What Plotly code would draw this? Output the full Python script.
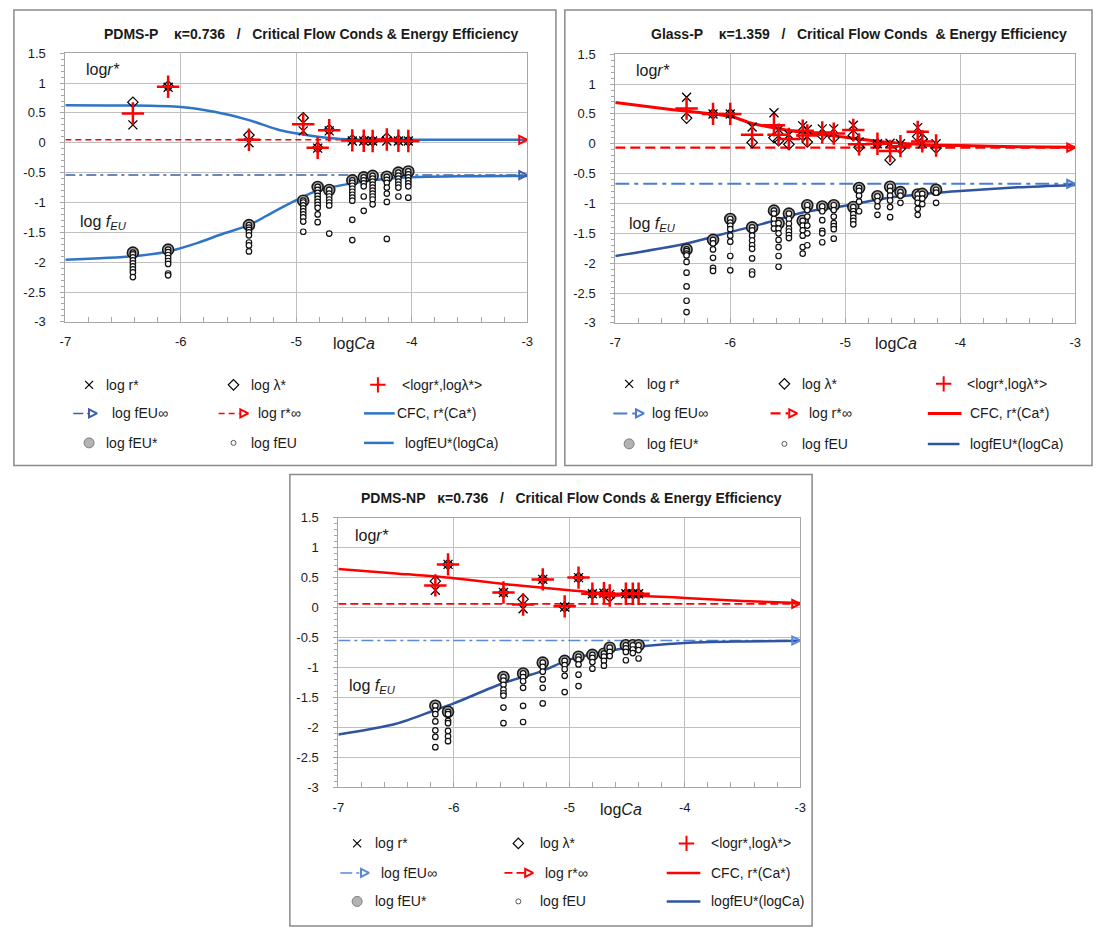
import plotly.graph_objects as go

W, H = 1101, 936

# ---------------- axes / ticks ----------------
X_SPAN = [-7, -3]
X_TICKS = [-7, -6, -5, -4, -3]
X_TICK_TEXT = ["-7", "-6", "-5", "-4", "-3"]
Y_TICKS = [-3, -2.5, -2, -1.5, -1, -0.5, 0, 0.5, 1, 1.5]
Y_TICK_TEXT = ["-3", "-2.5", "-2", "-1.5", "-1", "-0.5", "0", "0.5", "1", "1.5"]

# ---------------- Panel 1 : PDMS-P ----------------
P1_CA = [-6.415, -6.11, -5.41, -4.94, -4.815, -4.715, -4.515, -4.416, -4.339, -4.216, -4.116, -4.03]
P1_LOGR = [0.30, 0.93, 0.00, 0.20, -0.09, 0.20, 0.03, 0.03, 0.03, 0.03, 0.03, 0.03]
P1_LOGLAM = [0.68, 0.95, 0.13, 0.42, -0.08, 0.22, 0.05, 0.04, 0.03, 0.08, 0.04, 0.03]
P1_MEAN = [0.49, 0.94, 0.05, 0.31, -0.085, 0.21, 0.04, 0.035, 0.03, 0.055, 0.035, 0.03]
P1_FEU_STAR = [-1.84, -1.79, -1.38, -0.97, -0.74, -0.79, -0.63, -0.58, -0.555, -0.57, -0.50, -0.48]
P1_FEU = [
    [-1.87, -1.92, -1.97, -2.02, -2.07, -2.12, -2.17, -2.25],
    [-1.83, -1.88, -1.93, -1.98, -2.03, -2.19, -2.22],
    [-1.42, -1.46, -1.50, -1.55, -1.67, -1.72, -1.82],
    [-1.00, -1.05, -1.10, -1.15, -1.20, -1.25, -1.32, -1.49],
    [-0.79, -0.84, -0.89, -0.94, -0.99, -1.04, -1.09, -1.20, -1.33],
    [-0.85, -0.90, -0.95, -1.00, -1.05, -1.52],
    [-0.67, -0.72, -0.77, -0.82, -0.87, -0.92, -0.97, -1.29, -1.63],
    [-0.63, -0.68, -0.73, -0.90, -1.14],
    [-0.60, -0.65, -0.70, -0.75, -0.80, -0.85, -0.90, -0.95, -1.03],
    [-0.62, -0.67, -0.75, -0.85, -0.99, -1.61],
    [-0.55, -0.60, -0.65, -0.70, -0.75, -0.90],
    [-0.53, -0.58, -0.63, -0.68, -0.73, -0.92],
]
P1_RINF = 0.05
P1_FEUINF = -0.54
P1_CFC_CA = [-7, -6.5, -6.0, -5.71, -5.41, -5.14, -4.94, -4.71, -4.51, -4.0, -3.5, -3.0]
P1_CFC = [0.63, 0.625, 0.60, 0.52, 0.38, 0.21, 0.14, 0.08, 0.055, 0.05, 0.05, 0.05]
P1_FEUC_CA = [-7, -6.415, -6.11, -5.86, -5.63, -5.41, -5.2, -5.0, -4.815, -4.515, -4.14, -3.5, -3.0]
P1_FEUC = [-1.96, -1.90, -1.82, -1.68, -1.52, -1.38, -1.16, -0.96, -0.80, -0.68, -0.59, -0.56, -0.555]

# ---------------- Panel 2 : Glass-P ----------------
P2_CA = [-6.38, -6.15, -6.0, -5.81, -5.62, -5.58, -5.49, -5.37, -5.33, -5.2, -5.1,
         -4.93, -4.88, -4.72, -4.61, -4.52, -4.37, -4.33, -4.21]
P2_LOGR = [0.78, 0.50, 0.50, 0.28, 0.52, 0.24, 0.15, 0.30, 0.24, 0.25, 0.25,
           0.31, 0.03, 0.00, 0.01, 0.00, 0.27, 0.00, 0.00]
P2_LOGLAM = [0.43, 0.50, 0.50, 0.02, 0.10, 0.05, -0.01, 0.14, 0.03, 0.14, 0.10,
             0.14, -0.06, 0.00, -0.27, -0.08, 0.12, 0.08, -0.07]
P2_MEAN = [0.59, 0.50, 0.50, 0.15, 0.31, 0.15, 0.08, 0.22, 0.14, 0.19, 0.17,
           0.23, -0.01, 0.00, -0.12, -0.04, 0.20, 0.04, -0.03]
P2_FEU_STAR = [-1.77, -1.61, -1.26, -1.40, -1.12, -1.33, -1.17, -1.29, -1.03, -1.05, -1.03,
               -1.06, -0.74, -0.88, -0.72, -0.81, -0.85, -0.84, -0.77]
P2_FEU = [
    [-1.80, -1.84, -1.87, -1.98, -2.16, -2.39, -2.63, -2.82],
    [-1.67, -1.77, -1.91, -2.08, -2.13],
    [-1.32, -1.37, -1.43, -1.54, -1.64, -1.88, -2.12],
    [-1.45, -1.54, -1.62, -1.70, -1.76, -1.92, -2.14, -2.19],
    [-1.17, -1.26, -1.34, -1.42],
    [-1.42, -1.50, -1.61, -1.73, -1.88, -2.06],
    [-1.26, -1.34, -1.42, -1.47, -1.53, -1.58],
    [-1.37, -1.45, -1.54, -1.73, -1.84],
    [-1.11, -1.22, -1.37, -1.50, -1.70],
    [-1.13, -1.28, -1.46, -1.50, -1.65],
    [-1.11, -1.22, -1.33, -1.38, -1.43, -1.59],
    [-1.13, -1.18, -1.24, -1.29, -1.35],
    [-0.79, -0.87, -0.97, -1.13],
    [-0.96, -1.05, -1.19],
    [-0.79, -0.87, -0.95, -1.06, -1.23],
    [-0.87, -0.99],
    [-0.92, -0.99, -1.09, -1.19],
    [-0.92, -1.01],
    [-0.82, -0.99],
]
P2_RINF = -0.065
P2_FEUINF = -0.67
P2_CFC_CA = [-7, -6.5, -6.0, -5.81, -5.62, -5.37, -5.14, -5.0, -4.71, -4.26, -4.0, -3.5, -3.0]
P2_CFC = [0.69, 0.57, 0.46, 0.34, 0.27, 0.19, 0.14, 0.11, 0.04, -0.02, -0.03, -0.05, -0.06]
P2_FEUC_CA = [-7, -6.38, -6.0, -5.62, -5.37, -5.0, -4.61, -4.26, -4.0, -3.5, -3.0]
P2_FEUC = [-1.88, -1.67, -1.48, -1.29, -1.15, -1.04, -0.90, -0.83, -0.79, -0.73, -0.69]

# ---------------- Panel 3 : PDMS-NP ----------------
P3_CA = [-6.16, -6.05, -5.57, -5.40, -5.23, -5.04, -4.92, -4.80, -4.70, -4.65, -4.51, -4.45, -4.40]
P3_LOGR = [0.29, 0.72, 0.25, -0.02, 0.47, 0.01, 0.50, 0.23, 0.24, 0.22, 0.23, 0.23, 0.23]
P3_LOGLAM = [0.44, 0.72, 0.25, 0.14, 0.47, 0.01, 0.50, 0.23, 0.24, 0.18, 0.23, 0.23, 0.23]
P3_MEAN = [0.37, 0.72, 0.25, 0.05, 0.47, 0.02, 0.50, 0.23, 0.24, 0.20, 0.23, 0.23, 0.23]
P3_FEU_STAR = [-1.64, -1.74, -1.16, -1.10, -0.92, -0.89, -0.82, -0.79, -0.77, -0.67, -0.63, -0.63, -0.63]
P3_FEU = [
    [-1.72, -1.78, -1.90, -2.05, -2.16, -2.33],
    [-1.78, -1.89, -1.93, -2.06, -2.15, -2.23],
    [-1.22, -1.29, -1.37, -1.43, -1.47, -1.67, -1.93],
    [-1.16, -1.23, -1.34, -1.64, -1.91],
    [-0.99, -1.07, -1.20, -1.34, -1.60],
    [-0.96, -1.03, -1.14, -1.41],
    [-0.87, -0.95, -1.12, -1.31],
    [-0.84, -0.91, -1.02],
    [-0.82, -0.89, -0.97],
    [-0.74, -0.81],
    [-0.68, -0.74, -0.88],
    [-0.70, -0.76],
    [-0.71, -0.85],
]
P3_RINF = 0.06
P3_FEUINF = -0.55
P3_CFC_CA = [-7, -6.5, -6.0, -5.5, -5.0, -4.5, -4.0, -3.5, -3.0]
P3_CFC = [0.645, 0.57, 0.49, 0.38, 0.29, 0.21, 0.16, 0.11, 0.075]
P3_FEUC_CA = [-7, -6.5, -6.16, -6.0, -5.57, -5.25, -5.0, -4.75, -4.49, -4.0, -3.5, -3.0]
P3_FEUC = [-2.12, -1.94, -1.71, -1.60, -1.26, -1.07, -0.87, -0.76, -0.67, -0.59, -0.565, -0.555]

TITLES = [
    "PDMS-P\u00a0\u00a0\u00a0\u00a0κ=0.736\u00a0\u00a0\u00a0/\u00a0\u00a0\u00a0Critical Flow Conds & Energy Efficiency",
    "Glass-P\u00a0\u00a0\u00a0\u00a0κ=1.359\u00a0\u00a0\u00a0/\u00a0\u00a0\u00a0Critical Flow Conds\u00a0\u00a0& Energy Efficiency",
    "PDMS-NP\u00a0\u00a0\u00a0κ=0.736\u00a0\u00a0\u00a0/\u00a0\u00a0\u00a0Critical Flow Conds & Energy Efficiency",
]
LEGEND_TEXT = ["log r*", "log λ*", "&lt;logr*,logλ*&gt;",
               "log fEU∞", "log r*∞", "CFC, r*(Ca*)",
               "log fEU*", "log fEU", "logfEU*(logCa)"]

# ---------------- styling / layout (pixels) ----------------
FONT = "Liberation Sans, Arial, sans-serif"
RED = "#ff0000"
GRID = "#bfbfbf"
AXLINE = "#a6a6a6"

PANELS = [
    dict(data=(P1_CA, P1_LOGR, P1_LOGLAM, P1_MEAN, P1_FEU_STAR, P1_FEU, P1_RINF, P1_FEUINF,
               P1_CFC_CA, P1_CFC, P1_FEUC_CA, P1_FEUC),
         px=(60, 527, 47, 320), box=(8, 3, 556, 466),
         cfc_color="#2e75c7", cfc_w=2.5, feuc_color="#2e75c7", feuc_w=2.5,
         rinf_dash="6px,4px", rinf_w=1.5, inf_color="#3d5ea8", inf_dash="10px,4px,3px,4px", inf_w=1.5,
         title_xy=(309, 27), xlabel_xy=(352, 342), rlab=(79, 64), flab=(73, 219),
         leg=dict(rows=(384, 413, 443), sym=(84, 230, 376), txt=(99, 246, 398),
                  l1=(68, 84), a1=92, t1=105, l2=(215, 236), a2=245, t2=253,
                  l3=(362, 393), t3=393, l3b=(362, 392), t3b=401)),
    dict(data=(P2_CA, P2_LOGR, P2_LOGLAM, P2_MEAN, P2_FEU_STAR, P2_FEU, P2_RINF, P2_FEUINF,
               P2_CFC_CA, P2_CFC, P2_FEUC_CA, P2_FEUC),
         px=(616, 1081, 48, 321), box=(565, 3, 1098, 466),
         cfc_color=RED, cfc_w=3, feuc_color="#2f54a0", feuc_w=2.5,
         rinf_dash="10px,5px", rinf_w=2.2, inf_color="#4a7cd0", inf_dash="14px,5px,4px,5px", inf_w=2,
         title_xy=(862, 27), xlabel_xy=(900, 342), rlab=(635, 65), flab=(628, 221),
         leg=dict(rows=(383, 413, 444), sym=(630, 787, 948), txt=(646, 803, 970),
                  l1=(614, 638), a1=645, t1=651, l2=(773, 791), a2=800, t2=810,
                  l3=(932, 966), t3=973, l3b=(932, 964), t3b=973)),
    dict(data=(P3_CA, P3_LOGR, P3_LOGLAM, P3_MEAN, P3_FEU_STAR, P3_FEU, P3_RINF, P3_FEUINF,
               P3_CFC_CA, P3_CFC, P3_FEUC_CA, P3_FEUC),
         px=(336, 803, 519, 793), box=(287, 475, 815, 934),
         cfc_color=RED, cfc_w=2.5, feuc_color="#2f54a0", feuc_w=2.5,
         rinf_dash="8px,4px", rinf_w=1.8, inf_color="#5a8ad6", inf_dash="12px,4px,3px,4px", inf_w=1.5,
         title_xy=(572, 499), xlabel_xy=(622, 816), rlab=(351, 537), flab=(345, 691),
         leg=dict(rows=(850, 880, 909), sym=(355, 518, 688), txt=(371, 538, 711),
                  l1=(338, 360), a1=367, t1=377, l2=(504, 524), a2=533, t2=543,
                  l3=(668, 702), t3=711, l3b=(668, 702), t3b=711)),
]

fig = go.Figure()
annotations = []
shapes = []


def ov(trace):
    trace.update(xaxis="x4", yaxis="y4", showlegend=False, hoverinfo="skip", cliponaxis=False)
    fig.add_trace(trace)


for i, p in enumerate(PANELS):
    n = "" if i == 0 else str(i + 1)
    xa, ya = "x" + n, "y" + n
    (ca, logr, loglam, mean, fstar, feu, rinf, feuinf,
     cfc_ca, cfc, feuc_ca, feuc) = p["data"]

    common = dict(xaxis=xa, yaxis=ya, showlegend=False, hoverinfo="skip")
    # asymptotes
    fig.add_trace(go.Scatter(x=X_SPAN, y=[feuinf, feuinf], mode="lines",
                             line=dict(color=p["inf_color"], width=p["inf_w"], dash=p["inf_dash"]), **common))
    fig.add_trace(go.Scatter(x=X_SPAN, y=[rinf, rinf], mode="lines",
                             line=dict(color=RED, width=p["rinf_w"], dash=p["rinf_dash"]), **common))
    # model curves
    fig.add_trace(go.Scatter(x=cfc_ca, y=cfc, mode="lines", line_shape="spline",
                             line=dict(color=p["cfc_color"], width=p["cfc_w"], smoothing=0.8), **common))
    fig.add_trace(go.Scatter(x=feuc_ca, y=feuc, mode="lines", line_shape="spline",
                             line=dict(color=p["feuc_color"], width=p["feuc_w"], smoothing=0.8), **common))
    # arrow heads at the end of the asymptotes
    fig.add_trace(go.Scatter(x=[X_SPAN[1]], y=[rinf], mode="markers", cliponaxis=False,
                             marker=dict(symbol="arrow-right-open", size=8, color=RED,
                                         line=dict(color=RED, width=2)), **common))
    fig.add_trace(go.Scatter(x=[X_SPAN[1]], y=[feuinf], mode="markers", cliponaxis=False,
                             marker=dict(symbol="arrow-right-open", size=8, color=p["inf_color"],
                                         line=dict(color=p["inf_color"], width=2)), **common))
    # energy efficiency points
    fig.add_trace(go.Scatter(x=ca, y=fstar, mode="markers",
                             marker=dict(symbol="circle", size=11, color="#a3a3a3",
                                         line=dict(color="#1a1a1a", width=1.6)), **common))
    fx, fy = [], []
    for c, s, others in zip(ca, fstar, feu):
        fx += [c] * (1 + len(others))
        fy += [s] + others
    fig.add_trace(go.Scatter(x=fx, y=fy, mode="markers",
                             marker=dict(symbol="circle", size=5.5, color="white",
                                         line=dict(color="#111111", width=1.2)), **common))
    # critical flow conditions
    fig.add_trace(go.Scatter(x=ca, y=logr, mode="markers",
                             marker=dict(symbol="x-thin-open", size=9, color="black",
                                         line=dict(color="black", width=1.3)), **common))
    fig.add_trace(go.Scatter(x=ca, y=loglam, mode="markers",
                             marker=dict(symbol="diamond-open", size=8, color="black",
                                         line=dict(color="black", width=1.2)), **common))
    fig.add_trace(go.Scatter(x=ca, y=mean, mode="markers",
                             marker=dict(symbol="cross-thin-open", size=16, color=RED,
                                         line=dict(color=RED, width=2.5)), **common))

    x0, x1, y0, y1 = p["px"]
    fig.update_layout(**{
        "xaxis" + n: dict(domain=[x0 / W, x1 / W], anchor=ya, range=X_SPAN,
                          tickmode="array", tickvals=X_TICKS, ticktext=X_TICK_TEXT,
                          showgrid=True, gridcolor=GRID, gridwidth=1, zeroline=False,
                          showline=True, linecolor=AXLINE, linewidth=1, mirror=True,
                          ticks="inside", ticklen=5, tickcolor=AXLINE,
                          minor=dict(tickmode="linear", tick0=-7, dtick=0.2, ticks="inside",
                                     ticklen=5, tickcolor=AXLINE, showgrid=False),
                          tickfont=dict(family=FONT, size=13, color="#1a1a1a"),
                          ticklabelstandoff=8, fixedrange=True),
        "yaxis" + n: dict(domain=[1 - y1 / H, 1 - y0 / H], anchor=xa, range=[-3, 1.5],
                          tickmode="array", tickvals=Y_TICKS, ticktext=Y_TICK_TEXT,
                          showgrid=True, gridcolor=GRID, gridwidth=1, zeroline=False,
                          showline=True, linecolor=AXLINE, linewidth=1, mirror=True,
                          ticks="outside", ticklen=4, tickcolor=AXLINE,
                          minor=dict(tickmode="linear", tick0=0, dtick=0.1, ticks="outside",
                                     ticklen=3, tickcolor=AXLINE, showgrid=False),
                          tickfont=dict(family=FONT, size=13, color="#1a1a1a"),
                          ticklabelstandoff=12, fixedrange=True),
    })

    # frame of the panel
    bx0, by0, bx1, by1 = p["box"]
    shapes.append(dict(type="rect", xref="x4", yref="y4", x0=bx0, y0=by0, x1=bx1, y1=by1,
                       line=dict(color="#8a8a8a", width=1.5), layer="below"))

    tx, ty = p["title_xy"]
    annotations.append(dict(x=tx, y=ty, xref="x4", yref="y4", text="<b>" + TITLES[i] + "</b>",
                            showarrow=False, font=dict(family=FONT, size=14, color="#1a1a1a")))
    lx, ly = p["xlabel_xy"]
    annotations.append(dict(x=lx, y=ly, xref="x4", yref="y4", text="log<i>Ca</i>",
                            showarrow=False, font=dict(family=FONT, size=16, color="#1a1a1a")))
    rx, ry = p["rlab"]
    annotations.append(dict(x=rx, y=ry, xref="x4", yref="y4", text="log<i>r*</i>", xanchor="left",
                            showarrow=False, font=dict(family=FONT, size=16, color="#1a1a1a")))
    fx_, fy_ = p["flab"]
    annotations.append(dict(x=fx_, y=fy_, xref="x4", yref="y4",
                            text="log <i>f</i><sub><i>EU</i></sub>", xanchor="left",
                            showarrow=False, font=dict(family=FONT, size=16, color="#1a1a1a")))

    # ---- legend block ----
    L = p["leg"]
    r1, r2, r3 = L["rows"]
    s1, s2, s3 = L["sym"]
    ov(go.Scatter(x=[s1], y=[r1], mode="markers",
                  marker=dict(symbol="x-thin-open", size=8, color="black", line=dict(color="black", width=1.2))))
    ov(go.Scatter(x=[s2], y=[r1], mode="markers",
                  marker=dict(symbol="diamond-open", size=8, color="black", line=dict(color="black", width=1.2))))
    ov(go.Scatter(x=[s3], y=[r1], mode="markers",
                  marker=dict(symbol="cross-thin-open", size=11, color=RED, line=dict(color=RED, width=2))))
    ov(go.Scatter(x=list(L["l1"]), y=[r2, r2], mode="lines",
                  line=dict(color=p["inf_color"], width=p["inf_w"], dash=p["inf_dash"])))
    ov(go.Scatter(x=[L["a1"]], y=[r2], mode="markers",
                  marker=dict(symbol="arrow-right-open", size=8, color=p["inf_color"],
                              line=dict(color=p["inf_color"], width=2))))
    ov(go.Scatter(x=list(L["l2"]), y=[r2, r2], mode="lines",
                  line=dict(color=RED, width=p["rinf_w"], dash=p["rinf_dash"])))
    ov(go.Scatter(x=[L["a2"]], y=[r2], mode="markers",
                  marker=dict(symbol="arrow-right-open", size=8, color=RED, line=dict(color=RED, width=2))))
    ov(go.Scatter(x=list(L["l3"]), y=[r2, r2], mode="lines",
                  line=dict(color=p["cfc_color"], width=p["cfc_w"])))
    ov(go.Scatter(x=[s1], y=[r3], mode="markers",
                  marker=dict(symbol="circle", size=10, color="#b3b3b3", line=dict(color="#7f7f7f", width=1))))
    ov(go.Scatter(x=[s2], y=[r3], mode="markers",
                  marker=dict(symbol="circle", size=5, color="white", line=dict(color="#555555", width=1))))
    ov(go.Scatter(x=list(L["l3b"]), y=[r3, r3], mode="lines",
                  line=dict(color=p["feuc_color"], width=p["feuc_w"])))

    t1, t2, t3 = L["txt"]
    pos = [(t1, r1), (t2, r1), (t3, r1),
           (L["t1"], r2), (L["t2"], r2), (L["t3"], r2),
           (t1, r3), (t2, r3), (L["t3b"], r3)]
    for (tx_, ty_), txt in zip(pos, LEGEND_TEXT):
        annotations.append(dict(x=tx_, y=ty_, xref="x4", yref="y4", text=txt, xanchor="left",
                                yanchor="middle", showarrow=False,
                                font=dict(family=FONT, size=14, color="#1a1a1a")))

fig.update_layout(
    width=W, height=H, autosize=False,
    margin=dict(l=0, r=0, t=0, b=0),
    paper_bgcolor="white", plot_bgcolor="rgba(0,0,0,0)",
    showlegend=False,
    font=dict(family=FONT, color="#1a1a1a"),
    xaxis4=dict(domain=[0, 1], range=[0, W], visible=False, anchor="y4", fixedrange=True),
    yaxis4=dict(domain=[0, 1], range=[H, 0], visible=False, anchor="x4", fixedrange=True),
    annotations=annotations, shapes=shapes,
)

fig.write_html("out.html", config={"displayModeBar": False},
               post_script="document.body.style.margin='0';document.body.style.overflow='hidden';")
